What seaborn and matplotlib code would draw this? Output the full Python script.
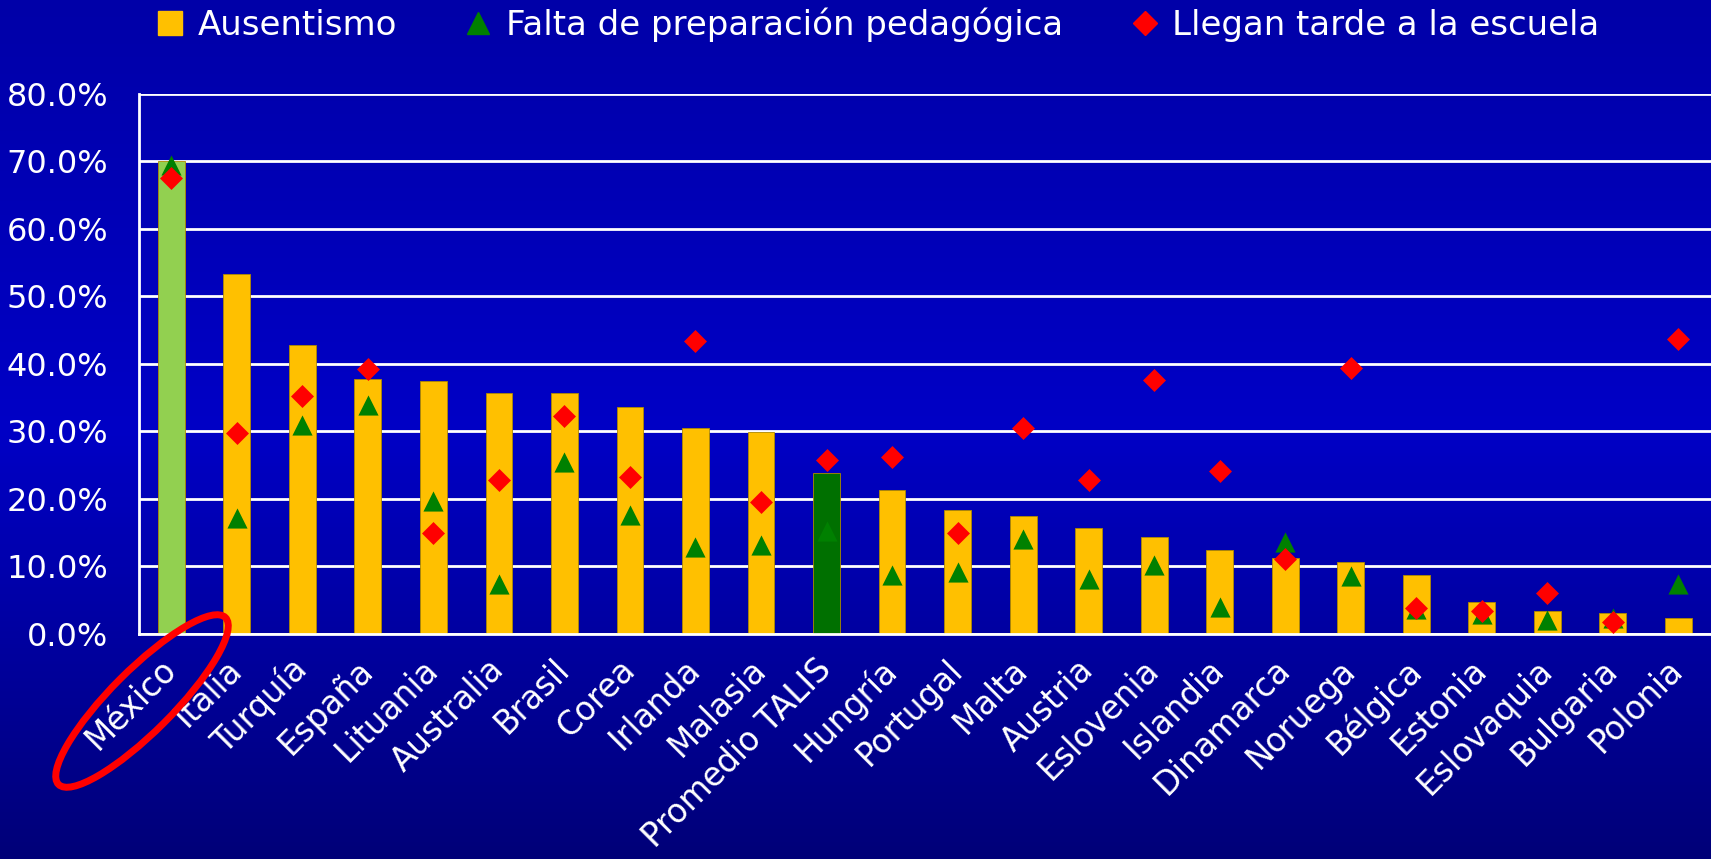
import matplotlib
matplotlib.use('Agg')
import matplotlib.pyplot as plt
from matplotlib.patches import Ellipse
from matplotlib.lines import Line2D
from matplotlib.colors import LinearSegmentedColormap
from matplotlib.ticker import PercentFormatter, MultipleLocator, FixedLocator
from matplotlib.transforms import IdentityTransform
import seaborn as sns
import pandas as pd
import numpy as np

paises = ['México', 'Italia', 'Turquía', 'España', 'Lituania', 'Australia', 'Brasil',
          'Corea', 'Irlanda', 'Malasia', 'Promedio TALIS', 'Hungría', 'Portugal', 'Malta',
          'Austria', 'Eslovenia', 'Islandia', 'Dinamarca', 'Noruega', 'Bélgica', 'Estonia',
          'Eslovaquia', 'Bulgaria', 'Polonia']
ausentismo = [70.0, 53.3, 42.8, 37.8, 37.5, 35.7, 35.7, 33.6, 30.5, 29.9, 23.9, 21.3,
              18.4, 17.4, 15.7, 14.4, 12.4, 11.3, 10.7, 8.7, 4.8, 3.4, 3.1, 2.3]
falta_preparacion = [69.5, 17.1, 30.9, 33.9, 19.7, 7.4, 25.4, 17.6, 12.8, 13.1, 15.2, 8.7,
                     9.2, 14.1, 8.1, 10.2, 4.0, 13.6, 8.6, 3.7, 2.9, 2.1, 2.4, 7.4]
llegan_tarde = [67.5, 29.7, 35.2, 39.3, 15.0, 22.8, 32.3, 23.3, 43.3, 19.5, 25.8, 26.2,
                15.0, 30.5, 22.8, 37.6, 24.1, 11.1, 39.4, 3.9, 3.4, 6.1, 1.8, 43.6]

colores_barras = {p: '#FFC000' for p in paises}
colores_barras['México'] = '#92D050'
colores_barras['Promedio TALIS'] = '#007000'

df = pd.DataFrame({'pais': paises, 'ausentismo': ausentismo,
                   'falta': falta_preparacion, 'tarde': llegan_tarde})

sns.set_theme(style='white')
plt.rcParams['font.family'] = ['DejaVu Sans']

fig = plt.figure(figsize=(17.11, 8.59), dpi=100)

# fondo degradado azul
bg = fig.add_axes([0, 0, 1, 1], zorder=-10)
fondo = LinearSegmentedColormap.from_list(
    'fondo', [(0, '#000078'), (0.5, '#0000C6'), (1, '#0000A8')])
bg.imshow(np.linspace(0, 1, 256).reshape(-1, 1), aspect='auto', cmap=fondo,
          origin='lower', extent=[0, 1, 0, 1])
bg.axis('off')

ax = fig.add_axes([0.081, 0.262, 0.919, 0.629])
ax.set_facecolor('none')

sns.barplot(data=df, x='pais', y='ausentismo', hue='pais', palette=colores_barras,
            order=paises, hue_order=paises, legend=False, width=0.41, saturation=1,
            edgecolor='#B08A00', linewidth=0.6, ax=ax, zorder=2)
sns.stripplot(data=df, x='pais', y='falta', order=paises, jitter=False, marker='^',
              color='#008000', size=14.5, linewidth=0, ax=ax, zorder=3)
sns.stripplot(data=df, x='pais', y='tarde', order=paises, jitter=False, marker='D',
              color='#FF0000', size=11.7, linewidth=0, ax=ax, zorder=4)

ax.set_xlim(-0.5, 23.5)
ax.set_ylim(0, 80)
ax.yaxis.set_major_locator(MultipleLocator(10))
ax.yaxis.set_major_formatter(PercentFormatter(decimals=1))
ax.yaxis.grid(True, color='white', linewidth=2, zorder=0)
ax.xaxis.grid(False)
ax.set_axisbelow(True)
ax.set_xlabel('')
ax.set_ylabel('')

for s in ['top', 'right']:
    ax.spines[s].set_visible(False)
for s in ['left', 'bottom']:
    ax.spines[s].set_color('white')
    ax.spines[s].set_linewidth(2)

ax.xaxis.set_minor_locator(FixedLocator(np.arange(-0.5, 24, 1)))
ax.tick_params(axis='x', which='major', length=0, pad=22, labelsize=23.5, labelcolor='white')
ax.tick_params(axis='x', which='minor', length=8, width=1.5, color='white', direction='out')
ax.tick_params(axis='y', length=8, width=1.5, color='white', direction='out',
               labelsize=23, labelcolor='white', pad=14)
ax.set_xticks(range(len(paises)))
ax.set_xticklabels(paises, rotation=45, ha='right', va='center', rotation_mode='anchor')

# leyenda
handles = [
    Line2D([], [], marker='s', linestyle='none', color='#FFC000', markersize=17),
    Line2D([], [], marker='^', linestyle='none', color='#008000', markersize=16),
    Line2D([], [], marker='D', linestyle='none', color='#FF0000', markersize=12),
]
etiquetas = ['Ausentismo', 'Falta de preparación pedagógica', 'Llegan tarde a la escuela']
fig.legend(handles, etiquetas, loc='center', bbox_to_anchor=(0.513, 0.971), ncol=3,
           frameon=False, fontsize=24.5, labelcolor='white', handlelength=0.8,
           handletextpad=0.4, columnspacing=2.0)

# elipse roja alrededor de México
elipse = Ellipse((142, 859 - 701), width=236, height=62, angle=45, fill=False,
                 edgecolor='#FF0000', linewidth=5, transform=IdentityTransform(),
                 zorder=20)
fig.patches.append(elipse)

fig.savefig('out.png', dpi=100)
